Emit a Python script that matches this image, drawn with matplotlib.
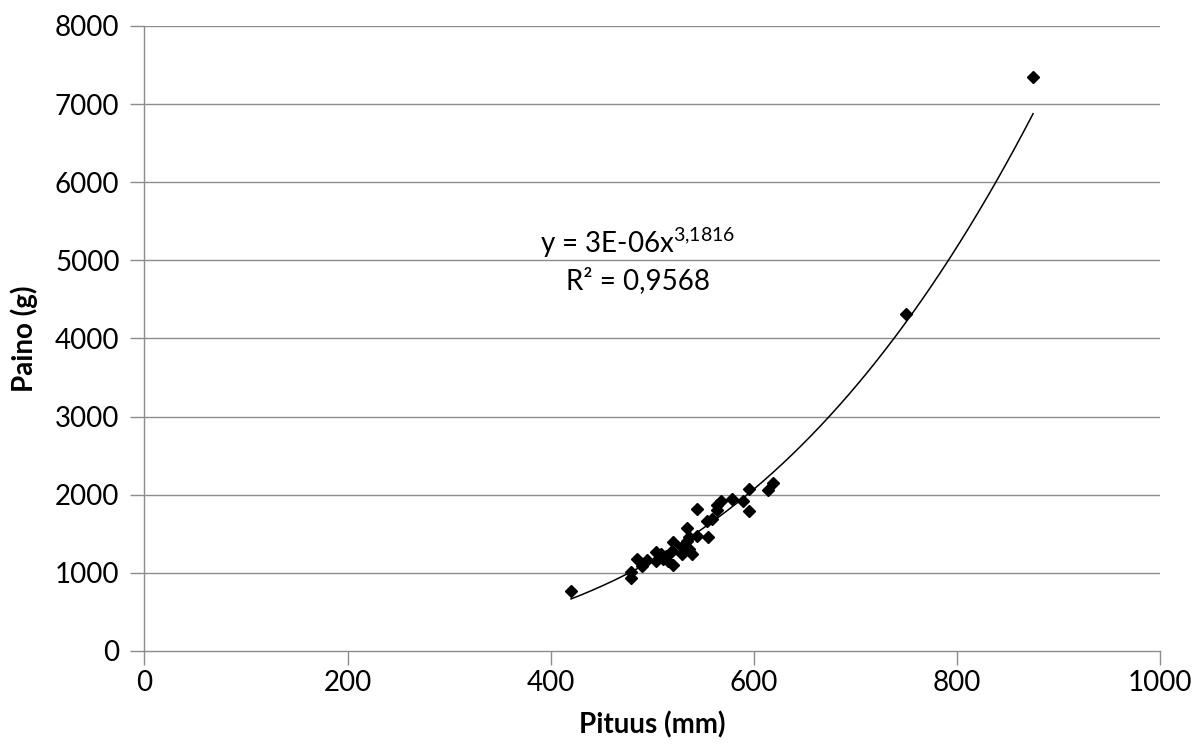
import numpy as np
import matplotlib
matplotlib.use("Agg")
import matplotlib.pyplot as plt

plt.rcParams['font.family'] = ['Lato', 'DejaVu Sans']
plt.rcParams['mathtext.fontset'] = 'custom'
plt.rcParams['mathtext.rm'] = 'Lato'
plt.rcParams['mathtext.it'] = 'Lato'
plt.rcParams['mathtext.bf'] = 'Lato:bold'

# Data
length_mm = [420, 479, 479, 485, 490, 495, 504, 504, 509, 511, 514, 516, 520,
             520, 519, 529, 529, 534, 534, 536, 536, 539, 544, 544, 555, 554,
             559, 564, 564, 568, 579, 589, 595, 595, 614, 619, 750, 875]
weight_g = [773, 1008, 936, 1179, 1094, 1166, 1264, 1149, 1243, 1179, 1222,
            1149, 1106, 1392, 1286, 1337, 1235, 1577, 1414, 1456, 1308, 1235,
            1821, 1478, 1465, 1662, 1692, 1799, 1863, 1918, 1940, 1918, 2077,
            1790, 2055, 2149, 4310, 7350]

# Trendline from the chart: y = 3E-06 x^3.1816
coef_a = 3e-6
coef_b = 3.1816
eq_text = r"y = 3E-06x$^{\mathrm{3{,}1816}}$"
r2_text = "R² = 0,9568"

x_ticks = [0, 200, 400, 600, 800, 1000]
y_ticks = [0, 1000, 2000, 3000, 4000, 5000, 6000, 7000, 8000]

fig = plt.figure(figsize=(11.98, 7.51), dpi=100)
ax = fig.add_axes([0.1206, 0.1332, 0.8477, 0.8322])

grid_col = '#8c8c8c'
for yt in y_ticks[1:]:
    ax.axhline(yt, color=grid_col, lw=1.0, zorder=1)

xs = np.linspace(min(length_mm), max(length_mm), 300)
ax.plot(xs, coef_a * xs ** coef_b, color='black', lw=1.1, zorder=2)
ax.plot(length_mm, weight_g, linestyle='none', marker='D', ms=6,
        color='black', zorder=3)

ax.set_xlim(0, 1000)
ax.set_ylim(0, 8000)
ax.set_xticks(x_ticks)
ax.set_yticks(y_ticks)
ax.tick_params(axis='both', labelsize=20, length=10, width=1.0,
               color=grid_col, direction='out')
ax.tick_params(axis='x', pad=4)
ax.tick_params(axis='y', pad=8)
for s in ['top', 'right']:
    ax.spines[s].set_visible(False)
for s in ['left', 'bottom']:
    ax.spines[s].set_color(grid_col)
    ax.spines[s].set_linewidth(1.0)

ax.set_xlabel('Pituus (mm)', fontsize=20, fontweight='bold', labelpad=11)
ax.set_ylabel('Paino (g)', fontsize=20, fontweight='bold', labelpad=12)

ax.text(486, 5222, eq_text, fontsize=20, ha='center', va='center')
ax.text(486, 4747, r2_text, fontsize=20, ha='center', va='center')

fig.savefig('out.png', dpi=100)
